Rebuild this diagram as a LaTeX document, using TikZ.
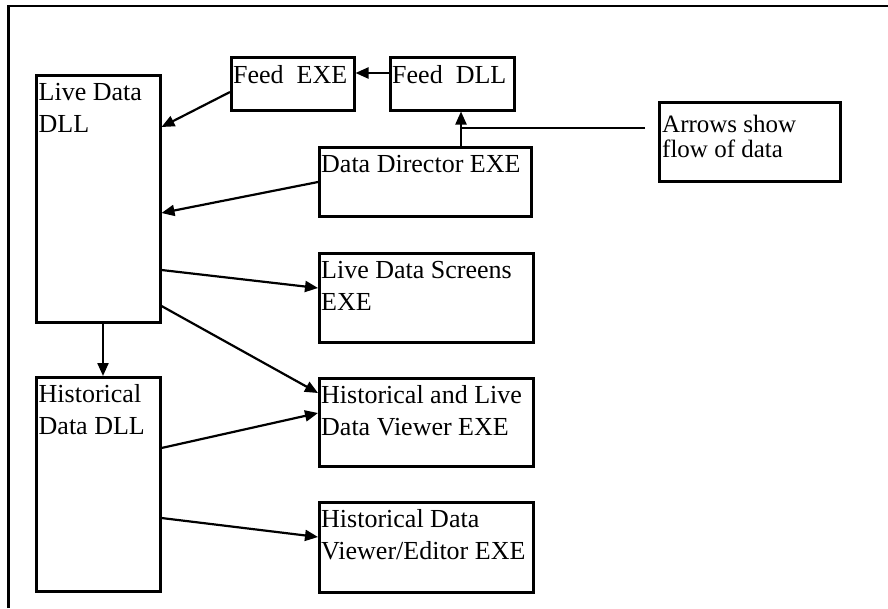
\documentclass[tikz,border=0pt]{standalone}
\usepackage{fontspec}
\setmainfont{Liberation Serif}
\usetikzlibrary{arrows.meta}
\begin{document}
\begin{tikzpicture}[x=1pt,y=-1pt,
  box/.style={draw, line width=2.5pt, inner sep=0pt, anchor=north west},
  lbl/.style={anchor=north west, inner sep=0pt, align=left,
              font=\fontsize{26}{32}\selectfont},
  notelbl/.style={lbl, font=\fontsize{25}{25.5}\selectfont},
  flow/.style={line width=2.2pt, -{Triangle[length=13pt,width=11pt]}},
  plain/.style={line width=2pt},
]
\useasboundingbox (0,0) rectangle (888,608);
% outer frame (left and top edges)
\draw[line width=2.5pt] (8.5,608) -- (8.5,6) -- (888,6);

% boxes
\node[box, minimum width=124pt, minimum height=247pt] (live) at (35,74) {};
\node[box, minimum width=124pt, minimum height=214pt] (hist) at (35,376) {};
\node[box, minimum width=123pt, minimum height=53pt]  (fexe) at (230,56) {};
\node[box, minimum width=124pt, minimum height=53pt]  (fdll) at (389,56) {};
\node[box, minimum width=212pt, minimum height=69pt]  (dd)   at (318,146) {};
\node[box, minimum width=214pt, minimum height=89pt]  (lds)  at (318,252) {};
\node[box, minimum width=214pt, minimum height=88pt]  (hlv)  at (318,377) {};
\node[box, minimum width=214pt, minimum height=90pt]  (hve)  at (318,501) {};
\node[box, minimum width=181pt, minimum height=79pt]  (note) at (658,101) {};

% box texts: first baseline 26pt below the box top
\newcommand\firstline{\rule{0pt}{20pt}}
\node[lbl] (liveT) at ([xshift=3.5pt,yshift=-6pt]live.north west) {\firstline Live Data\\DLL};
\node[lbl] (histT) at ([xshift=3.5pt,yshift=-6pt]hist.north west) {\firstline Historical\\Data DLL};
\node[lbl] (fexeT) at ([xshift=3pt,yshift=-7pt]fexe.north west) {\firstline Feed\ \ EXE};
\node[lbl] (fdllT) at ([xshift=3pt,yshift=-7pt]fdll.north west) {\firstline Feed\ \ DLL};
\node[lbl] (ddT)   at ([xshift=3pt,yshift=-6pt]dd.north west)   {\firstline Data Director EXE};
\node[lbl] (ldsT)  at ([xshift=3pt,yshift=-6pt]lds.north west)  {\firstline Live Data Screens\\EXE};
\node[lbl] (hlvT)  at ([xshift=3pt,yshift=-6pt]hlv.north west)  {\firstline Historical and Live\\Data Viewer EXE};
\node[lbl] (hveT)  at ([xshift=3pt,yshift=-6pt]hve.north west)  {\firstline Historical Data\\Viewer/Editor EXE};
\node[notelbl] (noteT) at ([xshift=4pt,yshift=-11pt]note.north west) {\firstline Arrows show\\flow of data};

% data flow
\draw[flow] ([yshift=-17pt]fdll.north west) -- ([yshift=-17pt]fexe.north east);
\draw[flow] ([yshift=-36pt]fexe.north west) -- ([yshift=-53pt]live.north east);
\draw[flow] ([yshift=-36pt]dd.north west)   -- ([yshift=-139pt]live.north east);
\draw[flow] ([xshift=143pt]dd.north west)   -- ([xshift=72pt]fdll.south west);
\draw[flow] ([yshift=-196pt]live.north east) -- ([yshift=-36pt]lds.north west);
\draw[flow] ([yshift=-232pt]live.north east) -- ([yshift=-16pt]hlv.north west);
\draw[flow] ([xshift=68pt]live.south west)  -- ([xshift=68pt]hist.north west);
\draw[flow] ([yshift=-72pt]hist.north east) -- ([yshift=-36pt]hlv.north west);
\draw[flow] ([yshift=-142pt]hist.north east) -- ([yshift=-36pt]hve.north west);

% legend pointer
\coordinate (tap) at ([xshift=72pt,yshift=-16pt]fdll.south west);
\coordinate (noteEnd) at ([xshift=-13pt]note.west);
\draw[plain] (noteEnd |- tap) -- (tap);
\end{tikzpicture}
\end{document}
